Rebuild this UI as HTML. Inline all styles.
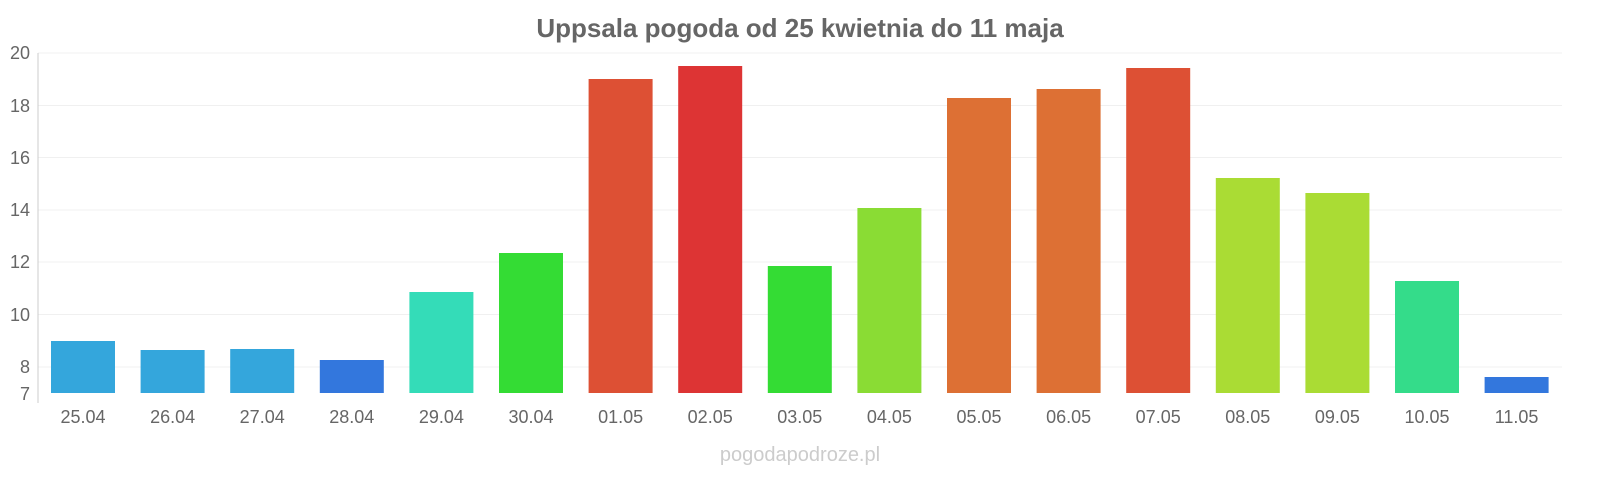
<!DOCTYPE html>
<html><head><meta charset="utf-8"><style>
html,body{margin:0;padding:0;background:#fff;overflow:hidden;width:1600px;height:480px;}
svg{display:block;}
svg text{font-family:"Liberation Sans",sans-serif;}
</style></head><body>
<svg width="1600" height="480" xmlns="http://www.w3.org/2000/svg">
<text x="800" y="37" text-anchor="middle" font-size="26" font-weight="bold" fill="#666">Uppsala pogoda od 25 kwietnia do 11 maja</text>
<g stroke="#f0f0f0" stroke-width="1">
<line x1="38" x2="1562" y1="53" y2="53"/><line x1="38" x2="1562" y1="105.5" y2="105.5"/>
<line x1="38" x2="1562" y1="157.5" y2="157.5"/><line x1="38" x2="1562" y1="210" y2="210"/>
<line x1="38" x2="1562" y1="262" y2="262"/><line x1="38" x2="1562" y1="314.5" y2="314.5"/>
<line x1="38" x2="1562" y1="367" y2="367"/>
</g>
<line x1="38" x2="38" y1="53" y2="403" stroke="#ccc"/>
<g font-size="18" fill="#666" text-anchor="end">
<text x="30" y="59">20</text><text x="30" y="112">18</text><text x="30" y="164">16</text>
<text x="30" y="216">14</text><text x="30" y="268">12</text><text x="30" y="321">10</text>
<text x="30" y="373">8</text><text x="30" y="400">7</text>
</g>
<g>
<rect x="51" y="341" width="64" height="52" fill="#34a6dc"/>
<rect x="140.6" y="350" width="64" height="43" fill="#34a6dc"/>
<rect x="230.2" y="349" width="64" height="44" fill="#34a6dc"/>
<rect x="319.8" y="360" width="64" height="33" fill="#3377dd"/>
<rect x="409.4" y="292" width="64" height="101" fill="#34dcb8"/>
<rect x="499" y="253" width="64" height="140" fill="#34dc34"/>
<rect x="588.6" y="79" width="64" height="314" fill="#dd5034"/>
<rect x="678.2" y="66" width="64" height="327" fill="#dd3434"/>
<rect x="767.8" y="266" width="64" height="127" fill="#34dc34"/>
<rect x="857.4" y="208" width="64" height="185" fill="#8adc34"/>
<rect x="947" y="98" width="64" height="295" fill="#dd7034"/>
<rect x="1036.6" y="89" width="64" height="304" fill="#dd7034"/>
<rect x="1126.2" y="68" width="64" height="325" fill="#dd5034"/>
<rect x="1215.8" y="178" width="64" height="215" fill="#aadc34"/>
<rect x="1305.4" y="193" width="64" height="200" fill="#aadc34"/>
<rect x="1395" y="281" width="64" height="112" fill="#34dc8a"/>
<rect x="1484.6" y="377" width="64" height="16" fill="#3377dd"/>
</g>
<g font-size="18" fill="#666" text-anchor="middle">
<text x="83" y="423">25.04</text><text x="172.6" y="423">26.04</text><text x="262.2" y="423">27.04</text>
<text x="351.8" y="423">28.04</text><text x="441.4" y="423">29.04</text><text x="531" y="423">30.04</text>
<text x="620.6" y="423">01.05</text><text x="710.2" y="423">02.05</text><text x="799.8" y="423">03.05</text>
<text x="889.4" y="423">04.05</text><text x="979" y="423">05.05</text><text x="1068.6" y="423">06.05</text>
<text x="1158.2" y="423">07.05</text><text x="1247.8" y="423">08.05</text><text x="1337.4" y="423">09.05</text>
<text x="1427" y="423">10.05</text><text x="1516.6" y="423">11.05</text>
</g>
<text x="800" y="461" text-anchor="middle" font-size="20" fill="#ccc">pogodapodroze.pl</text>
</svg>
</body></html>
